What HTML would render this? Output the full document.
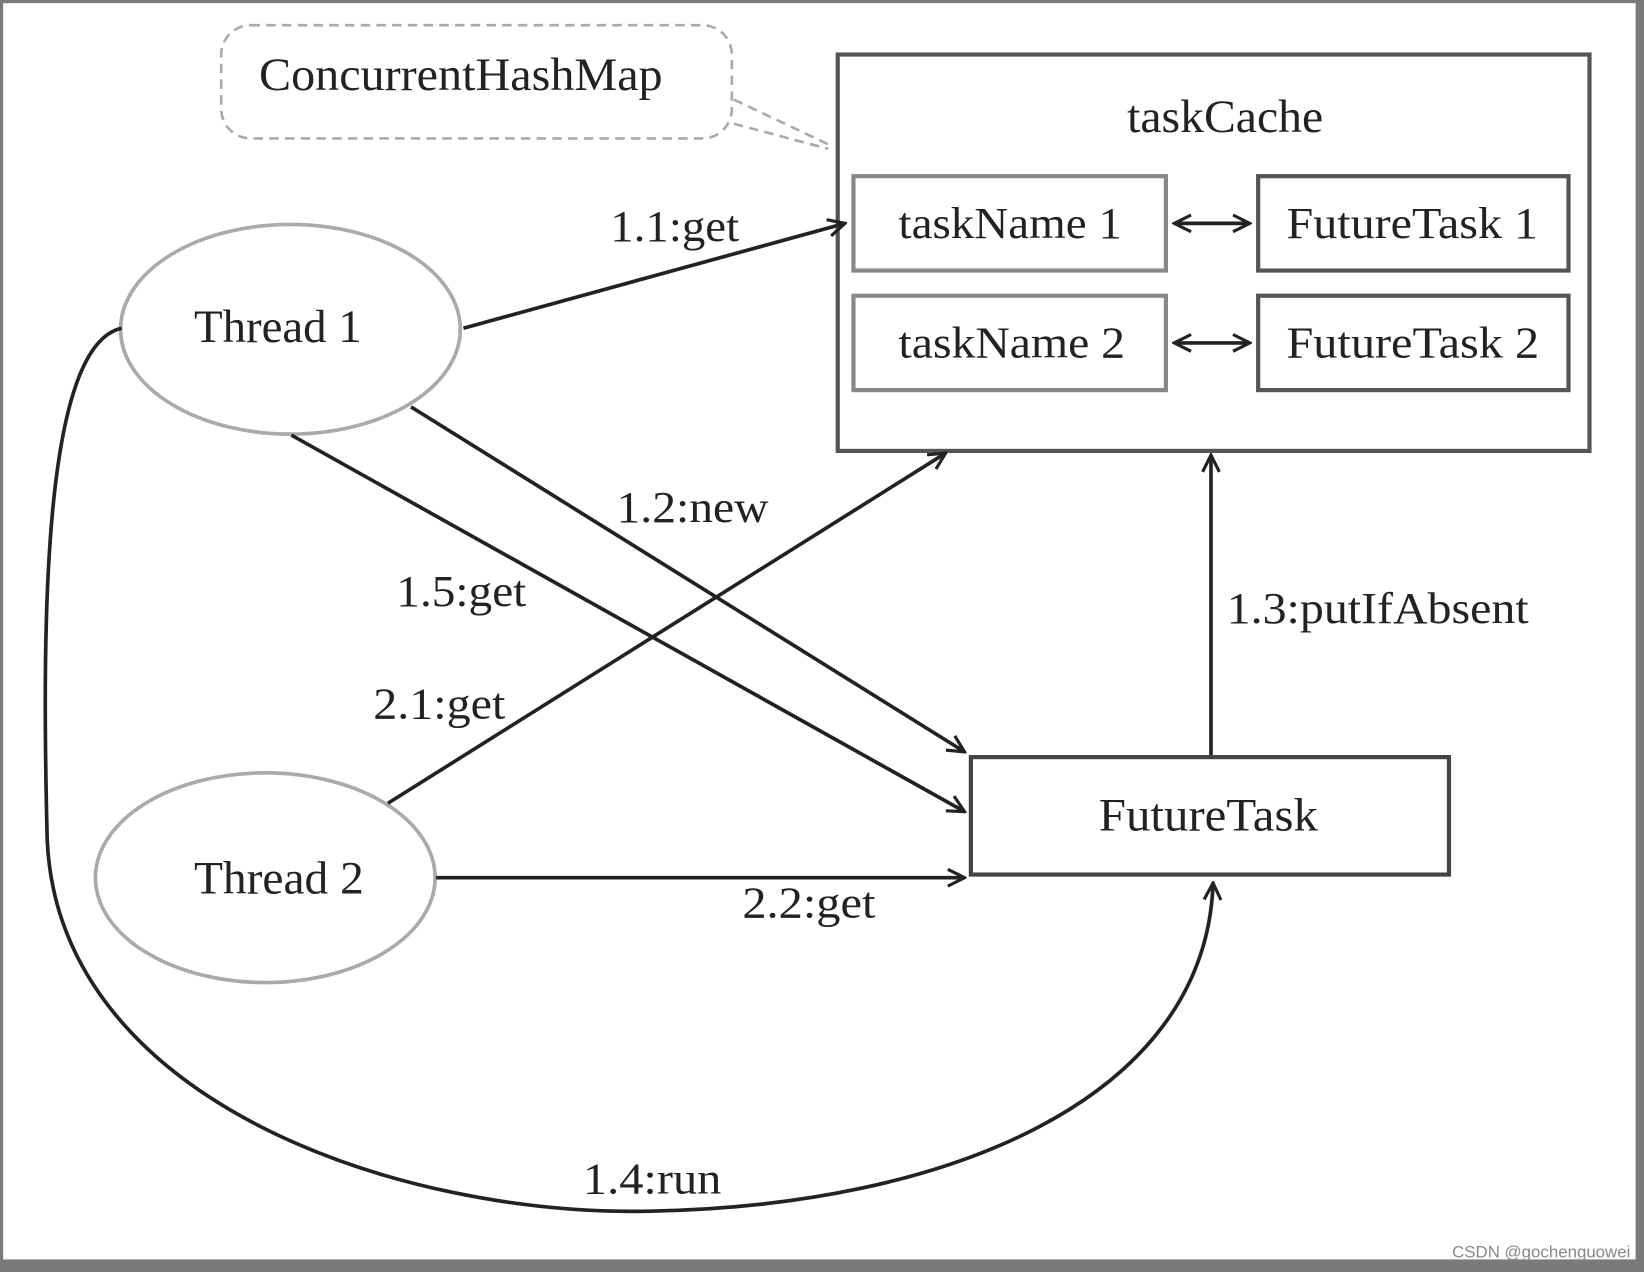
<!DOCTYPE html>
<html><head><meta charset="utf-8"><style>
html,body{margin:0;padding:0;background:#fff;}
svg{display:block;}
text{font-family:"Liberation Serif",serif;fill:#222;}
</style></head><body>
<svg width="1644" height="1272" viewBox="0 0 1568 1213" preserveAspectRatio="none" xmlns="http://www.w3.org/2000/svg">
<defs>
<marker id="a" viewBox="0 0 20 20" refX="18" refY="10" markerWidth="20" markerHeight="20" markerUnits="userSpaceOnUse" orient="auto-start-reverse">
<path d="M2,2 L18,10 L2,18" fill="none" stroke="#222" stroke-width="3"/>
</marker>
</defs>
<rect x="0" y="0" width="1568" height="1213" fill="#fff"/>
<rect x="0" y="0" width="3" height="1213" fill="#7a7a7a"/>
<rect x="0" y="0" width="1568" height="3" fill="#7a7a7a"/>
<rect x="1560" y="0" width="8" height="1213" fill="#7a7a7a"/>
<rect x="0" y="1201" width="1568" height="12" fill="#7a7a7a"/>

<rect x="211" y="24" width="487" height="108" rx="28" fill="none" stroke="#aaa" stroke-width="2.5" stroke-dasharray="9,6"/>
<path d="M700,95 L795,140 M700,118 L790,142" stroke="#aaa" stroke-width="2.5" stroke-dasharray="9,6" fill="none"/>
<text x="247" y="86" font-size="44" textLength="385" lengthAdjust="spacingAndGlyphs">ConcurrentHashMap</text>

<rect x="799" y="52" width="717" height="378" fill="none" stroke="#555" stroke-width="4"/>
<text x="1075" y="126" font-size="44" textLength="187" lengthAdjust="spacingAndGlyphs">taskCache</text>
<rect x="814" y="168" width="298" height="90" fill="none" stroke="#888" stroke-width="4"/>
<text x="857" y="227" font-size="42" textLength="213" lengthAdjust="spacingAndGlyphs">taskName 1</text>
<rect x="1200" y="168" width="296" height="90" fill="none" stroke="#555" stroke-width="4"/>
<text x="1227" y="227" font-size="42" textLength="240" lengthAdjust="spacingAndGlyphs">FutureTask 1</text>
<rect x="814" y="282" width="298" height="90" fill="none" stroke="#888" stroke-width="4"/>
<text x="857" y="341" font-size="42" textLength="216" lengthAdjust="spacingAndGlyphs">taskName 2</text>
<rect x="1200" y="282" width="296" height="90" fill="none" stroke="#555" stroke-width="4"/>
<text x="1227" y="341" font-size="42" textLength="241" lengthAdjust="spacingAndGlyphs">FutureTask 2</text>
<line x1="1120" y1="213" x2="1192" y2="213" stroke="#222" stroke-width="3.5" marker-start="url(#a)" marker-end="url(#a)"/>
<line x1="1120" y1="327" x2="1192" y2="327" stroke="#222" stroke-width="3.5" marker-start="url(#a)" marker-end="url(#a)"/>

<rect x="926" y="722" width="456" height="112" fill="none" stroke="#444" stroke-width="4"/>
<text x="1048" y="792" font-size="44" textLength="209" lengthAdjust="spacingAndGlyphs">FutureTask</text>

<ellipse cx="277" cy="314" rx="162" ry="100" fill="#fff" stroke="#aaa" stroke-width="3.5"/>
<text x="185" y="326" font-size="44" textLength="160" lengthAdjust="spacingAndGlyphs">Thread 1</text>
<ellipse cx="253" cy="837" rx="162" ry="100" fill="#fff" stroke="#aaa" stroke-width="3.5"/>
<text x="185" y="852" font-size="44" textLength="162" lengthAdjust="spacingAndGlyphs">Thread 2</text>

<g stroke="#222" stroke-width="3.5" fill="none">
<line x1="442" y1="313" x2="806" y2="213" marker-end="url(#a)"/>
<line x1="392" y1="388" x2="920" y2="717" marker-end="url(#a)"/>
<line x1="278" y1="415" x2="920" y2="774" marker-end="url(#a)"/>
<line x1="370" y1="766" x2="902" y2="432" marker-end="url(#a)"/>
<line x1="416" y1="837" x2="920" y2="837" marker-end="url(#a)"/>
<line x1="1155" y1="720" x2="1155" y2="434" marker-end="url(#a)"/>
<path d="M116,313 C40,330 40,600 45,800 C55,1050 380,1160 620,1155 C900,1150 1150,1050 1157,842" marker-end="url(#a)"/>
</g>

<g font-size="42">
<text x="582" y="230" textLength="123" lengthAdjust="spacingAndGlyphs">1.1:get</text>
<text x="588" y="498" textLength="145" lengthAdjust="spacingAndGlyphs">1.2:new</text>
<text x="378" y="578" textLength="124" lengthAdjust="spacingAndGlyphs">1.5:get</text>
<text x="356" y="685" textLength="126" lengthAdjust="spacingAndGlyphs">2.1:get</text>
<text x="1170" y="594" textLength="288" lengthAdjust="spacingAndGlyphs">1.3:putIfAbsent</text>
<text x="708" y="875" textLength="127" lengthAdjust="spacingAndGlyphs">2.2:get</text>
<text x="556" y="1138" textLength="132" lengthAdjust="spacingAndGlyphs">1.4:run</text>
</g>
<text x="1385" y="1199" font-size="16" textLength="170" lengthAdjust="spacingAndGlyphs" style="font-family:'Liberation Sans',sans-serif;fill:#888">CSDN @gochenguowei</text>
</svg>
</body></html>
